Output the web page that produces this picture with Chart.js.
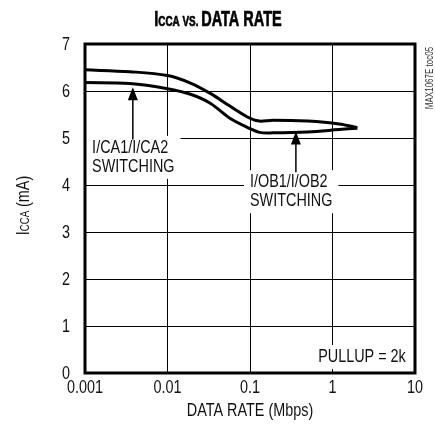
<!DOCTYPE html>
<html>
<head>
<meta charset="utf-8">
<script src="https://cdn.jsdelivr.net/npm/chart.js@4.4.1/dist/chart.umd.min.js"></script>
<style>
  html, body { margin: 0; padding: 0; background: #fff; }
</style>
</head>
<body>
<canvas id="chart-icca" width="435" height="436"></canvas>
<script>
const FONT = '"Liberation Sans", Arial, sans-serif'
const NARROW = 0.8 // condensed look for the text
const TITLE_NARROW = 0.66

// data rate (Mbps) and supply current (mA)
const dataRate = [0.001, 0.0035, 0.01, 0.019, 0.033, 0.057, 0.1, 0.13, 0.19, 0.5, 1.2, 2.0]
const iccaUpper = [6.45, 6.41, 6.33, 6.17, 5.95, 5.68, 5.42, 5.36, 5.38, 5.36, 5.3, 5.22]
const iccaLower = [6.18, 6.16, 6.05, 5.93, 5.74, 5.42, 5.2, 5.12, 5.11, 5.13, 5.18, 5.21]

const xTicks = [0.001, 0.01, 0.1, 1, 10]
const xTickLabels = ['0.001', '0.01', '0.1', '1', '10']
const yTicks = [0, 1, 2, 3, 4, 5, 6, 7]
const yTickLabels = ['0', '1', '2', '3', '4', '5', '6', '7']

// text notes, anchored in data coordinates
const noteLines = [['I/CA1/I/CA2', 'SWITCHING'], ['I/OB1/I/OB2', 'SWITCHING'], ['PULLUP = 2k']]
const noteX = [0.00122, 0.1, 0.67]
const noteY = [4.79, 4.06, 0.34]

// arrows: x position, tail value, tip value
const arrowX = [0.0038, 0.36]
const arrowFrom = [4.97, 4.27]
const arrowTo = [6.08, 5.14]

// draw text squeezed horizontally, align = left | center | right
function narrowText(ctx, text, x, y, size, align, bold, sx = NARROW) {
  ctx.font = `${bold ? 'bold ' : ''}${size}px ${FONT}`
  const w = ctx.measureText(text).width * sx
  let left = x
  if (align === 'center') left = x - w / 2
  if (align === 'right') left = x - w
  ctx.save()
  ctx.translate(left, y)
  ctx.scale(sx, 1)
  ctx.textAlign = 'left'
  ctx.fillText(text, 0, 0)
  if (bold) ctx.strokeText(text, 0, 0)
  ctx.restore()
  return w
}

function drawParts(ctx, parts, cx, cy, sx) {
  const total = parts.reduce((sum, p) => {
    ctx.font = `${p.bold ? 'bold ' : ''}${p.size}px ${FONT}`
    return sum + ctx.measureText(p.t).width * sx
  }, 0)
  let x = cx - total / 2
  ctx.textBaseline = 'alphabetic'
  parts.forEach((p) => {
    x += narrowText(ctx, p.t, x, cy, p.size, 'left', p.bold, sx)
  })
}

const decor = {
  id: 'decor',
  beforeDatasetsDraw(chart) {
    const { ctx, scales } = chart
    ctx.save()
    ctx.textBaseline = 'middle'
    noteLines.forEach((lines, i) => {
      const x = scales.x.getPixelForValue(noteX[i])
      const y = scales.y.getPixelForValue(noteY[i])
      ctx.font = `18px ${FONT}`
      const w = Math.max(...lines.map((l) => ctx.measureText(l).width)) * NARROW
      const lh = 19
      // white box breaks the grid behind the note
      ctx.fillStyle = '#fff'
      ctx.fillRect(x - 6, y - 12, w + 12, lh * (lines.length - 1) + 24)
      ctx.fillStyle = '#111'
      lines.forEach((l, j) => narrowText(ctx, l, x, y + j * lh, 18, 'left'))
    })
    ctx.restore()
  },
  afterDatasetsDraw(chart) {
    const { ctx, scales } = chart
    ctx.save()
    ctx.strokeStyle = '#000'
    ctx.fillStyle = '#000'
    arrowX.forEach((v, i) => {
      const x = scales.x.getPixelForValue(v)
      const y0 = scales.y.getPixelForValue(arrowFrom[i])
      const y1 = scales.y.getPixelForValue(arrowTo[i])
      ctx.lineWidth = 1.5
      ctx.beginPath()
      ctx.moveTo(x, y0)
      ctx.lineTo(x, y1 + 6)
      ctx.stroke()
      ctx.beginPath()
      ctx.moveTo(x, y1)
      ctx.lineTo(x - 5, y1 + 13)
      ctx.lineTo(x + 5, y1 + 13)
      ctx.closePath()
      ctx.fill()
    })
    ctx.restore()
  },
  afterDraw(chart) {
    const { ctx, chartArea: a, scales } = chart
    ctx.save()
    ctx.strokeStyle = '#000'
    ctx.lineWidth = 3
    ctx.strokeRect(a.left, a.top, a.right - a.left, a.bottom - a.top)

    ctx.fillStyle = '#111'
    // tick labels
    ctx.textBaseline = 'middle'
    xTicks.forEach((v, i) => {
      narrowText(ctx, xTickLabels[i], scales.x.getPixelForValue(v), a.bottom + 15, 18, 'center')
    })
    yTicks.forEach((v, i) => {
      narrowText(ctx, yTickLabels[i], a.left - 15, scales.y.getPixelForValue(v) + 1, 18, 'right')
    })

    // title, slightly heavier than plain bold
    ctx.fillStyle = '#000'
    ctx.strokeStyle = '#000'
    ctx.lineWidth = 0.7
    drawParts(ctx, [
      { t: 'I', size: 22, bold: true },
      { t: 'CCA', size: 15, bold: true },
      { t: ' VS. ', size: 15, bold: true },
      { t: 'DATA RATE', size: 22, bold: true },
    ], 218, 26, TITLE_NARROW)

    ctx.fillStyle = '#111'
    // x axis title
    ctx.textBaseline = 'middle'
    narrowText(ctx, 'DATA RATE (Mbps)', (a.left + a.right) / 2, 411, 18, 'center')

    // y axis title
    ctx.save()
    ctx.translate(29, (a.top + a.bottom) / 2 - 3)
    ctx.rotate(-Math.PI / 2)
    drawParts(ctx, [
      { t: 'I', size: 18 },
      { t: 'CCA', size: 12 },
      { t: ' (mA)', size: 18 },
    ], 0, 0, NARROW)
    ctx.restore()

    // figure tag
    ctx.save()
    ctx.translate(430, 78)
    ctx.rotate(-Math.PI / 2)
    ctx.fillStyle = '#333'
    ctx.textBaseline = 'middle'
    narrowText(ctx, 'MAX1067E toc05', 0, 0, 10, 'center')
    ctx.restore()
    ctx.restore()
  },
}

function makeSeries(values) {
  return values.map((v, i) => ({ x: dataRate[i], y: v }))
}

const ctx = document.getElementById('chart-icca')
new Chart(ctx, {
  type: 'line',
  data: {
    datasets: [
      {
        label: 'upper',
        data: makeSeries(iccaUpper),
        borderColor: '#000',
        borderWidth: 3,
        pointRadius: 0,
        tension: 0.35,
      },
      {
        label: 'lower',
        data: makeSeries(iccaLower),
        borderColor: '#000',
        borderWidth: 3,
        pointRadius: 0,
        tension: 0.35,
      },
    ],
  },
  options: {
    responsive: false,
    animation: false,
    layout: { padding: { left: 45, top: 44, right: 20, bottom: 0 } },
    plugins: {
      legend: { display: false },
      tooltip: { enabled: false },
    },
    scales: {
      x: {
        type: 'logarithmic',
        min: 0.001,
        max: 10,
        afterBuildTicks: (s) => {
          s.ticks = xTicks.map((v) => ({ value: v }))
        },
        afterFit: (s) => {
          s.height = 63
        },
        ticks: { display: false },
        grid: { color: '#000', lineWidth: 1, drawTicks: false },
        border: { display: false },
      },
      y: {
        min: 0,
        max: 7,
        afterBuildTicks: (s) => {
          s.ticks = yTicks.map((v) => ({ value: v }))
        },
        afterFit: (s) => {
          s.width = 40
        },
        ticks: { display: false },
        grid: { color: '#000', lineWidth: 1, drawTicks: false },
        border: { display: false },
      },
    },
  },
  plugins: [decor],
})
</script>
</body>
</html>
